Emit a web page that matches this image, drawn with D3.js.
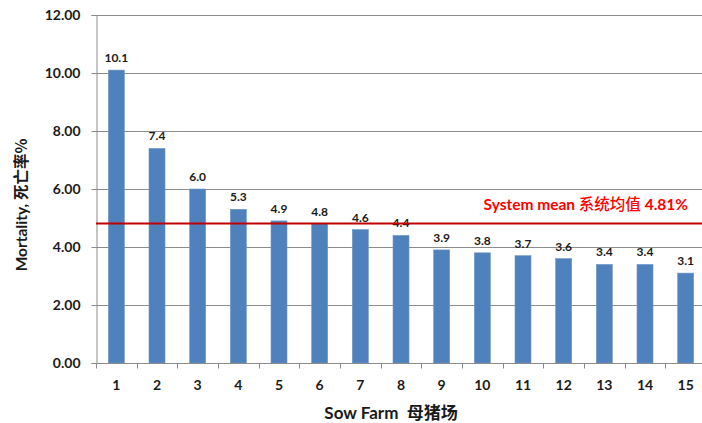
<!DOCTYPE html>
<html>
<head>
<meta charset="utf-8">
<script src="https://cdn.jsdelivr.net/npm/d3@7"></script>
<style>
  html, body { margin: 0; padding: 0; background: #fff; }
  svg { display: block; font-family: Lato, "Noto Sans CJK SC", sans-serif; }
</style>
</head>
<body>
<svg id="chart" width="702" height="423"></svg>
<script>
// Sow farm mortality
const farms = ["1","2","3","4","5","6","7","8","9","10","11","12","13","14","15"];
const mortality = [10.1, 7.4, 6.0, 5.3, 4.9, 4.8, 4.6, 4.4, 3.9, 3.8, 3.7, 3.6, 3.4, 3.4, 3.1];
const yTicks = [0, 2, 4, 6, 8, 10, 12];
const systemMean = 4.81;

const svg = d3.select("#chart");
const plotLeft = 96, plotRight = 706, plotTop = 15, plotBottom = 363;

const x = d3.scaleBand().domain(farms).range([plotLeft, plotRight]).padding(0);
const y = d3.scaleLinear().domain([0, 12]).range([plotBottom, plotTop]);

const gridColor = "#8c8c8c";
const cjk = "'Noto Sans CJK SC'";

// horizontal gridlines
svg.append("g").selectAll("line").data(yTicks.filter(d => d > 0)).join("line")
  .attr("x1", plotLeft).attr("x2", plotRight)
  .attr("y1", d => Math.round(y(d)) + 0.5).attr("y2", d => Math.round(y(d)) + 0.5)
  .attr("stroke", gridColor).attr("stroke-width", 1);

// bars
svg.append("g").selectAll("rect").data(farms).join("rect")
  .attr("x", (d) => x(d) + x.bandwidth() / 2 - 8)
  .attr("width", 16)
  .attr("y", (d, i) => y(mortality[i]))
  .attr("height", (d, i) => y(0) - y(mortality[i]))
  .attr("fill", "#4f81bd")
  .attr("stroke", "#6f97c9").attr("stroke-width", 0.6);

// value labels
svg.append("g").selectAll("text").data(farms).join("text")
  .attr("x", d => x(d) + x.bandwidth() / 2)
  .attr("y", (d, i) => y(mortality[i]) - 8)
  .attr("text-anchor", "middle")
  .attr("font-size", 12).attr("font-weight", 700).attr("fill", "#1a1a1a")
  .text((d, i) => mortality[i].toFixed(1));

// y axis
const yAxis = svg.append("g")
  .attr("transform", `translate(${plotLeft + 0.5},0)`)
  .call(d3.axisLeft(y).tickValues(yTicks).tickFormat(d3.format(".2f")).tickSize(5).tickPadding(11));
yAxis.select(".domain").attr("stroke", gridColor);
yAxis.selectAll(".tick line").attr("stroke", gridColor);
yAxis.selectAll(".tick text")
  .attr("font-size", 14).attr("font-weight", 700).attr("fill", "#1a1a1a")
  .attr("font-family", "Lato, sans-serif");

// x axis: ticks at band boundaries
const xAxisG = svg.append("g").attr("transform", `translate(0,${plotBottom + 0.5})`);
xAxisG.append("line").attr("x1", plotLeft).attr("x2", plotRight).attr("stroke", gridColor);
const edges = farms.map(d => x(d)).concat([x.range()[1]]);
xAxisG.selectAll("line.tk").data(edges).join("line").attr("class", "tk")
  .attr("x1", d => Math.round(d) + 0.5).attr("x2", d => Math.round(d) + 0.5)
  .attr("y1", 0).attr("y2", 5).attr("stroke", gridColor);
xAxisG.selectAll("text").data(farms).join("text")
  .attr("x", d => x(d) + x.bandwidth() / 2)
  .attr("y", 26)
  .attr("text-anchor", "middle")
  .attr("font-size", 14).attr("font-weight", 700).attr("fill", "#1a1a1a")
  .text(d => d);

// top border
svg.append("line").attr("x1", plotLeft).attr("x2", plotRight)
  .attr("y1", plotTop + 0.5).attr("y2", plotTop + 0.5).attr("stroke", gridColor);

// system mean line
svg.append("line")
  .attr("x1", plotLeft).attr("x2", plotRight)
  .attr("y1", y(systemMean)).attr("y2", y(systemMean))
  .attr("stroke", "#c00000").attr("stroke-width", 2);

svg.append("text")
  .attr("x", 688).attr("y", 210)
  .attr("text-anchor", "end")
  .attr("font-size", 15.5).attr("font-weight", 700).attr("fill", "#ff0000")
  .html(`System mean <tspan font-family="${cjk}" font-weight="500">系统均值</tspan> 4.81%`);

// axis titles
svg.append("text")
  .attr("transform", "translate(27,205) rotate(-90)")
  .attr("text-anchor", "middle")
  .attr("font-size", 15.5).attr("font-weight", 700).attr("fill", "#1a1a1a")
  .html(`Mortality, <tspan font-family="${cjk}">死亡率%</tspan>`);

svg.append("text")
  .attr("x", 391).attr("y", 419)
  .attr("text-anchor", "middle")
  .attr("font-size", 17).attr("font-weight", 700).attr("fill", "#1a1a1a")
  .html(`Sow Farm&#160; <tspan font-family="${cjk}">母猪场</tspan>`);
</script>
</body>
</html>
